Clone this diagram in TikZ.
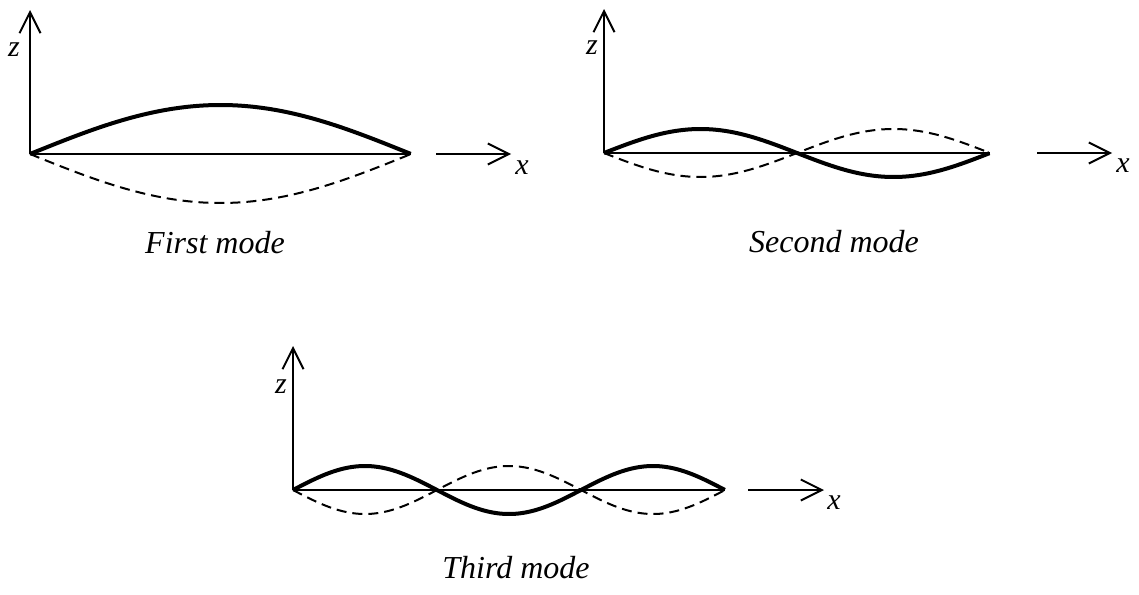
\documentclass[tikz,border=0pt]{standalone}
\usepackage{fontspec}
\setmainfont{Liberation Serif}
\usetikzlibrary{arrows.meta}
\begin{document}
\begin{tikzpicture}[x=0.5pt,y=-0.5pt,
  axisline/.style={line width=1pt,-{Straight Barb[length=10.5pt,width=10.5pt,line width=1pt]}},
  baseline/.style={line width=1pt},
  solidmode/.style={line width=2pt,line join=round},
  dashmode/.style={line width=1pt,dash pattern=on 5pt off 3pt},
  axlabel/.style={inner sep=0pt,font=\fontsize{15}{18}\selectfont\itshape},
  modelabel/.style={inner sep=0pt,font=\fontsize{16}{19}\selectfont\itshape}]
\useasboundingbox (0,0) rectangle (1139,594);
% ---------- First mode ----------
\coordinate (O1) at (30,154);
\coordinate (T1) at (30,10);
\coordinate (E1) at (411,154);
\coordinate (A1s) at (436,154);
\coordinate (A1e) at (511,154);
\draw[axisline] (O1) -- (T1);
\draw[baseline] (O1) -- (E1);
\draw[axisline] (A1s) -- (A1e);
\draw[solidmode] plot[domain=0:1,samples=80] ({30+381*\x},{154-49*sin(180*\x)});
\draw[dashmode] plot[domain=0:1,samples=80] ({30+381*\x},{154+49*sin(180*\x)});
\node[axlabel] (z1) at (14,50) {z};
\node[axlabel] (x1) at (522,168) {x};
\node[modelabel] (m1) at (215,243) {First mode};
% ---------- Second mode ----------
\coordinate (O2) at (604,153);
\coordinate (T2) at (604,9);
\coordinate (E2) at (990,153);
\coordinate (A2s) at (1037,153);
\coordinate (A2e) at (1112,153);
\draw[axisline] (O2) -- (T2);
\draw[baseline] (O2) -- (E2);
\draw[axisline] (A2s) -- (A2e);
\draw[solidmode] plot[domain=0:1,samples=120] ({604+386*\x},{153-24*sin(360*\x)});
\draw[dashmode] plot[domain=0:1,samples=120] ({604+386*\x},{153+24*sin(360*\x)});
\node[axlabel] (z2) at (592,48) {z};
\node[axlabel] (x2) at (1123,166) {x};
\node[modelabel] (m2) at (834,242) {Second mode};
% ---------- Third mode ----------
\coordinate (O3) at (293,490);
\coordinate (T3) at (293,346);
\coordinate (E3) at (725,490);
\coordinate (A3s) at (748,490);
\coordinate (A3e) at (824,490);
\draw[axisline] (O3) -- (T3);
\draw[baseline] (O3) -- (E3);
\draw[axisline] (A3s) -- (A3e);
\draw[solidmode] plot[domain=0:1,samples=160] ({293+432*\x},{490-24*sin(540*\x)});
\draw[dashmode] plot[domain=0:1,samples=160] ({293+432*\x},{490+24*sin(540*\x)});
\node[axlabel] (z3) at (281,387) {z};
\node[axlabel] (x3) at (834,503) {x};
\node[modelabel] (m3) at (516,568) {Third mode};
\end{tikzpicture}
\end{document}
